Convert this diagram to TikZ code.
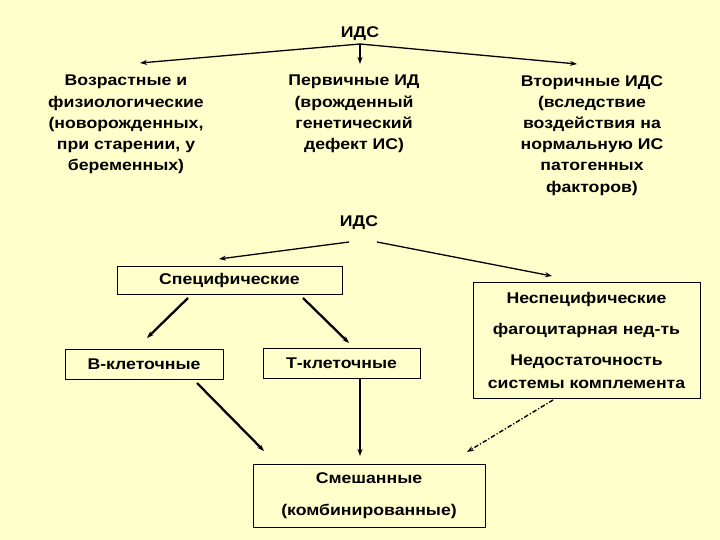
\documentclass[tikz,border=0pt]{standalone}
\usepackage{fontspec}
\setmainfont{Liberation Sans}[FakeStretch=1.14]
\usetikzlibrary{arrows.meta,positioning}
\definecolor{slidebg}{RGB}{255,255,204}

\begin{document}
\begin{tikzpicture}[x=1pt,y=-1pt,
    txt/.style={font=\fontsize{15.5}{21.2}\selectfont\bfseries,align=center,inner sep=0pt},
    block/.style={txt,draw,line width=0.9pt,rectangle},
    arrow/.style={-{Stealth[length=7pt,width=5pt]},line width=1.3pt},
    heavy/.style={arrow,line width=2.3pt},
    dashdot/.style={arrow,line width=1.4pt,dash pattern=on 4.5pt off 2pt on 1.2pt off 2pt}
]
    \fill[slidebg] (0,0) rectangle (720,540);
    \useasboundingbox (0,0) rectangle (720,540);

    % top level
    \node[txt,anchor=base] (idsTop) at (360,38) {ИДС};
    \node[txt,anchor=north] (ageBox) at (126,75) {Возрастные и\\физиологические\\(новорожденных,\\при старении, у\\беременных)};
    \node[txt,anchor=north] (primBox) at (354,75) {Первичные ИД\\(врожденный\\генетический\\дефект ИС)};
    \node[txt,anchor=north] (secBox) at (592,75) {Вторичные ИДС\\(вследствие\\воздействия на\\нормальную ИС\\патогенных\\факторов)};
    \coordinate (forkTop) at (360,44);
    \coordinate (ageIn) at (140,63);
    \coordinate (primIn) at (360,64);
    \coordinate (secIn) at (577,64);
    \draw[arrow] (forkTop) -- (ageIn);
    \draw[arrow] (forkTop) -- (primIn);
    \draw[arrow] (forkTop) -- (secIn);

    % second level
    \node[txt,anchor=base] (idsMid) at (359,226) {ИДС};
    \node[block,minimum width=225pt,minimum height=28pt] (specBox) at (229.5,280) {Специфические};
    \node[block,minimum width=227pt,minimum height=116pt,font=\fontsize{15.5}{23}\selectfont\bfseries] (nonspecBox) at (586.5,340)
        {Неспецифические\\[8pt]фагоцитарная нед-ть\\[8pt]Недостаточность\\системы комплемента};
    \node[block,minimum width=158pt,minimum height=30pt] (bBox) at (144,364.5) {В-клеточные};
    \node[block,minimum width=157pt,minimum height=30pt] (tBox) at (341.5,363.5) {Т-клеточные};
    \node[block,minimum width=232pt,minimum height=63pt] (mixBox) at (369,495.5) {Смешанные\\[11pt](комбинированные)};

    \coordinate (midL) at (349,242);
    \coordinate (midR) at (377,242);
    \coordinate (specIn) at (219,259);
    \coordinate (nonspecIn) at (552,276);
    \draw[arrow] (midL) -- (specIn);
    \draw[arrow] (midR) -- (nonspecIn);

    \coordinate (specL) at (188,298);
    \coordinate (specR) at (303,298);
    \coordinate (bIn) at (147,338);
    \coordinate (tIn) at (349,343);
    \draw[heavy] (specL) -- (bIn);
    \draw[heavy] (specR) -- (tIn);

    \coordinate (bOut) at (197,383);
    \coordinate (tOut) at (tBox.south);
    \coordinate (nonspecOut) at (553,400);
    \coordinate (mixInL) at (264,451);
    \coordinate (mixInM) at (360,456);
    \coordinate (mixInR) at (467,452);
    \draw[heavy] (bOut) -- (mixInL);
    \draw[arrow] (tOut -| mixInM) -- (mixInM);
    \draw[dashdot] (nonspecOut) -- (mixInR);
\end{tikzpicture}
\end{document}
